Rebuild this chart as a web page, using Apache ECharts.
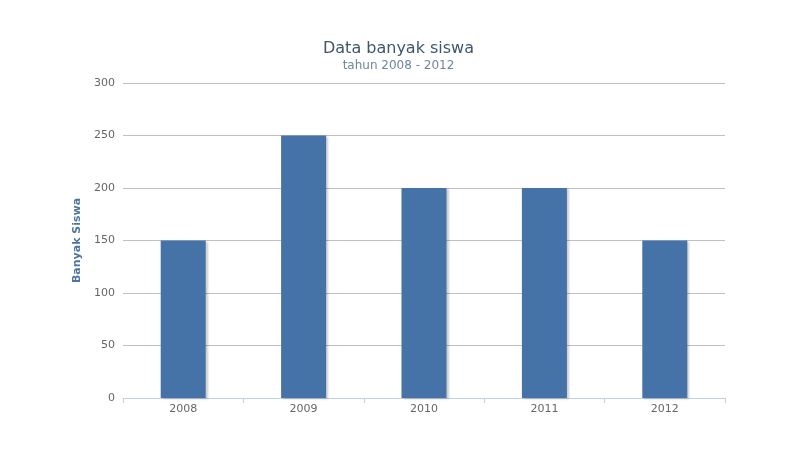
<!DOCTYPE html>
<html><head><meta charset="utf-8">
<script src="https://cdn.jsdelivr.net/npm/echarts@6/dist/echarts.min.js"></script>
<style>html,body{margin:0;padding:0;background:#fff}#c{width:797px;height:449px}</style>
</head><body><div id="c"></div>
<script>
const categories = ['2008','2009','2010','2011','2012'];
const siswa = [150, 250, 200, 200, 150];
const yTicks = [0, 50, 100, 150, 200, 250, 300];

const chart = echarts.init(document.getElementById('c'), null, {renderer:'canvas'});
chart.setOption({
  animation:false,
  backgroundColor:'#ffffff',
  title:{
    text:'Data banyak siswa', subtext:'tahun 2008 - 2012',
    left:'center', top:36, itemGap:3,
    textStyle:{fontFamily:'DejaVu Sans', fontSize:16, fontWeight:'normal', color:'#3E576F'},
    subtextStyle:{fontFamily:'DejaVu Sans', fontSize:12, color:'#6D869F'}
  },
  grid:{left:123, right:72, top:83, bottom:51},
  xAxis:{
    type:'category', data:categories,
    axisLine:{lineStyle:{color:'#C0D0E0', width:1}},
    axisTick:{show:true, length:5, lineStyle:{color:'#C0D0E0'}},
    axisLabel:{color:'#666666', fontFamily:'DejaVu Sans', fontSize:11, margin:6}
  },
  yAxis:{
    type:'value', min:yTicks[0], max:yTicks[yTicks.length-1], interval:50,
    name:'Banyak Siswa', nameLocation:'middle', nameGap:39, nameRotate:90,
    nameTextStyle:{color:'#4D759E', fontFamily:'DejaVu Sans', fontSize:11, fontWeight:'bold'},
    axisLine:{show:false}, axisTick:{show:false},
    splitLine:{lineStyle:{color:'#C0C0C0', width:1}},
    axisLabel:{color:'#666666', fontFamily:'DejaVu Sans', fontSize:11, margin:8}
  },
  series:[{
    type:'bar', data:siswa, barWidth:45,
    itemStyle:{color:'#4572A7', shadowColor:'rgba(0,0,0,0.2)', shadowOffsetX:2, shadowOffsetY:1, shadowBlur:2}
  }]
});
</script></body></html>
